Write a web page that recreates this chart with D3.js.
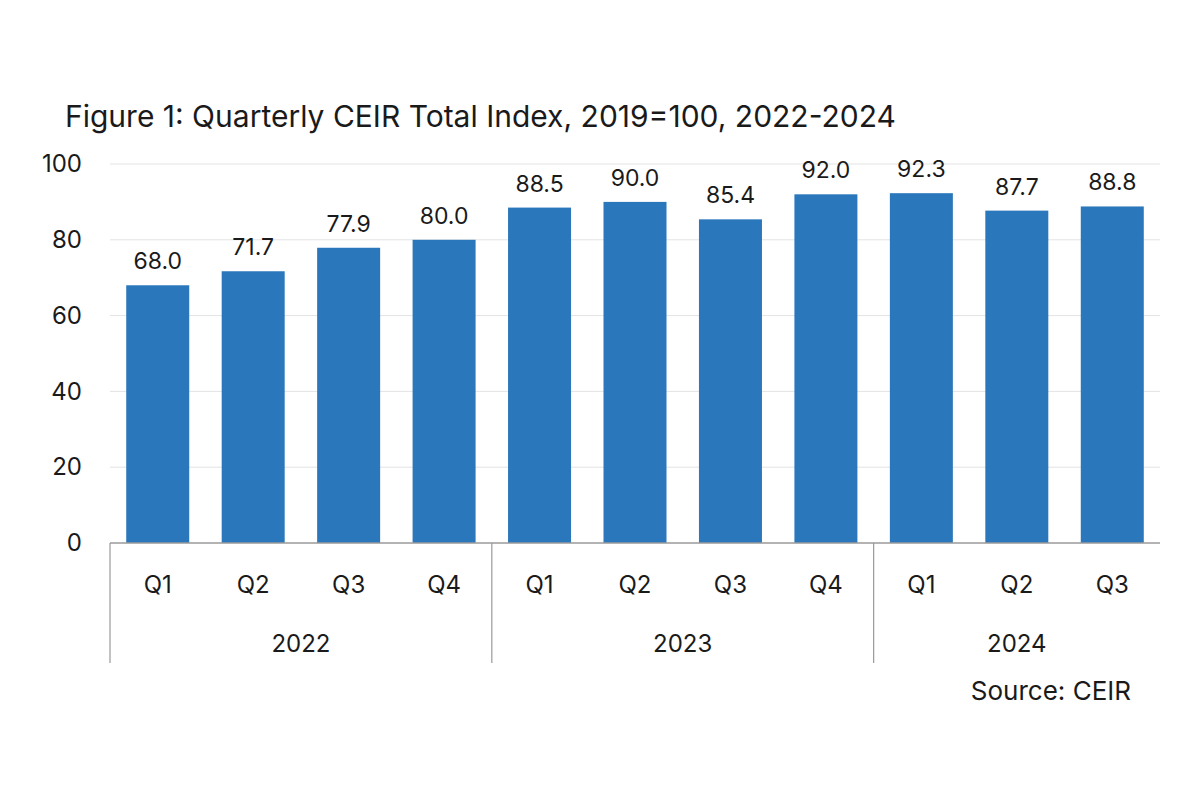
<!DOCTYPE html>
<html lang="en">

<head>
  <meta charset="utf-8">
  <title>Quarterly CEIR Total Index</title>
  <script src="https://cdn.jsdelivr.net/npm/d3@7"></script>
  <style>
    body {
      margin: 0;
      background: #fff;
    }

    text {
      font-family: Inter, "Open Sans", sans-serif;
      fill: #1a1a1a;
    }

    .grid line {
      stroke: #e3e3e3;
    }

    .bar {
      fill: #2a77bb;
    }
  </style>
</head>

<body>
  <div id="box"></div>
  <script>
    const width = 1200
    const height = 800

    // plot area
    const padding = { top: 164, right: 40, bottom: 257, left: 110 }

    // data
    const years = ['2022', '2023', '2024']
    const quarters = ['Q1', 'Q2', 'Q3', 'Q4', 'Q1', 'Q2', 'Q3', 'Q4', 'Q1', 'Q2', 'Q3']
    const quarterYears = ['2022', '2022', '2022', '2022', '2023', '2023', '2023', '2023', '2024', '2024', '2024']
    const values = [68.0, 71.7, 77.9, 80.0, 88.5, 90.0, 85.4, 92.0, 92.3, 87.7, 88.8]
    const yTicks = [0, 20, 40, 60, 80, 100]

    const innerW = width - padding.left - padding.right
    const innerH = height - padding.top - padding.bottom

    const xScale = d3.scaleBand()
      .domain(d3.range(values.length))
      .range([0, innerW])
      .paddingInner(0.34)
      .paddingOuter(0.17)

    const yScale = d3.scaleLinear()
      .domain([0, 100])
      .range([innerH, 0])

    const svg = d3.select('#box')
      .append('svg')
      .attr('width', width)
      .attr('height', height)

    // title
    svg.append('text')
      .attr('x', 65)
      .attr('y', 127)
      .attr('font-size', 30)
      .text('Figure 1: Quarterly CEIR Total Index, 2019=100, 2022-2024')

    const g = svg.append('g')
      .attr('transform', `translate(${padding.left},${padding.top})`)

    // gridlines
    g.append('g')
      .attr('class', 'grid')
      .selectAll('line')
      .data(yTicks.filter(d => d > 0))
      .enter()
      .append('line')
      .attr('x1', 0)
      .attr('x2', innerW)
      .attr('y1', d => yScale(d))
      .attr('y2', d => yScale(d))

    // y axis labels
    const yAxis = d3.axisLeft(yScale)
      .tickValues(yTicks)
      .tickSize(0)
      .tickPadding(28)
    g.append('g')
      .call(yAxis)
      .call(s => s.select('.domain').remove())
      .selectAll('text')
      .attr('font-size', 24)
      .attr('font-family', 'Inter, sans-serif')
      .attr('fill', '#1a1a1a')

    // bars
    g.selectAll('.bar')
      .data(values)
      .enter()
      .append('rect')
      .attr('class', 'bar')
      .attr('x', (d, i) => xScale(i))
      .attr('y', d => yScale(d))
      .attr('width', xScale.bandwidth())
      .attr('height', d => innerH - yScale(d))

    // value labels
    g.selectAll('.val')
      .data(values)
      .enter()
      .append('text')
      .attr('class', 'val')
      .attr('x', (d, i) => xScale(i) + xScale.bandwidth() / 2)
      .attr('y', d => yScale(d) - 16)
      .attr('text-anchor', 'middle')
      .attr('font-size', 23)
      .text(d => d.toFixed(1))

    // baseline
    g.append('line')
      .attr('x1', 0)
      .attr('x2', innerW)
      .attr('y1', innerH)
      .attr('y2', innerH)
      .attr('stroke', '#9a9a9a')
      .attr('stroke-width', 1.5)

    // quarter labels
    g.selectAll('.q')
      .data(quarters)
      .enter()
      .append('text')
      .attr('class', 'q')
      .attr('x', (d, i) => xScale(i) + xScale.bandwidth() / 2)
      .attr('y', innerH + 50)
      .attr('text-anchor', 'middle')
      .attr('font-size', 24)
      .text(d => d)

    // year groups
    const step = xScale.step()
    const groups = years.map(y => {
      const idx = quarterYears.map((q, i) => q === y ? i : -1).filter(i => i >= 0)
      return { year: y, start: d3.min(idx), end: d3.max(idx) }
    })

    // separator sits at the left edge of each group's first band
    const sepX = d => d.start === 0 ? 0 : xScale(d.start) - step * xScale.paddingInner() / 2

    g.selectAll('.sep')
      .data(groups)
      .enter()
      .append('line')
      .attr('x1', sepX)
      .attr('x2', sepX)
      .attr('y1', innerH)
      .attr('y2', innerH + 120)
      .attr('stroke', '#9a9a9a')
      .attr('stroke-width', 1.2)

    g.selectAll('.yr')
      .data(groups)
      .enter()
      .append('text')
      .attr('class', 'yr')
      .attr('x', d => (xScale(d.start) + xScale(d.end) + xScale.bandwidth()) / 2)
      .attr('y', innerH + 109)
      .attr('text-anchor', 'middle')
      .attr('font-size', 24)
      .text(d => d.year)

    // source
    svg.append('text')
      .attr('x', 1131)
      .attr('y', 700)
      .attr('text-anchor', 'end')
      .attr('font-size', 26)
      .text('Source: CEIR')
  </script>
</body>

</html>
